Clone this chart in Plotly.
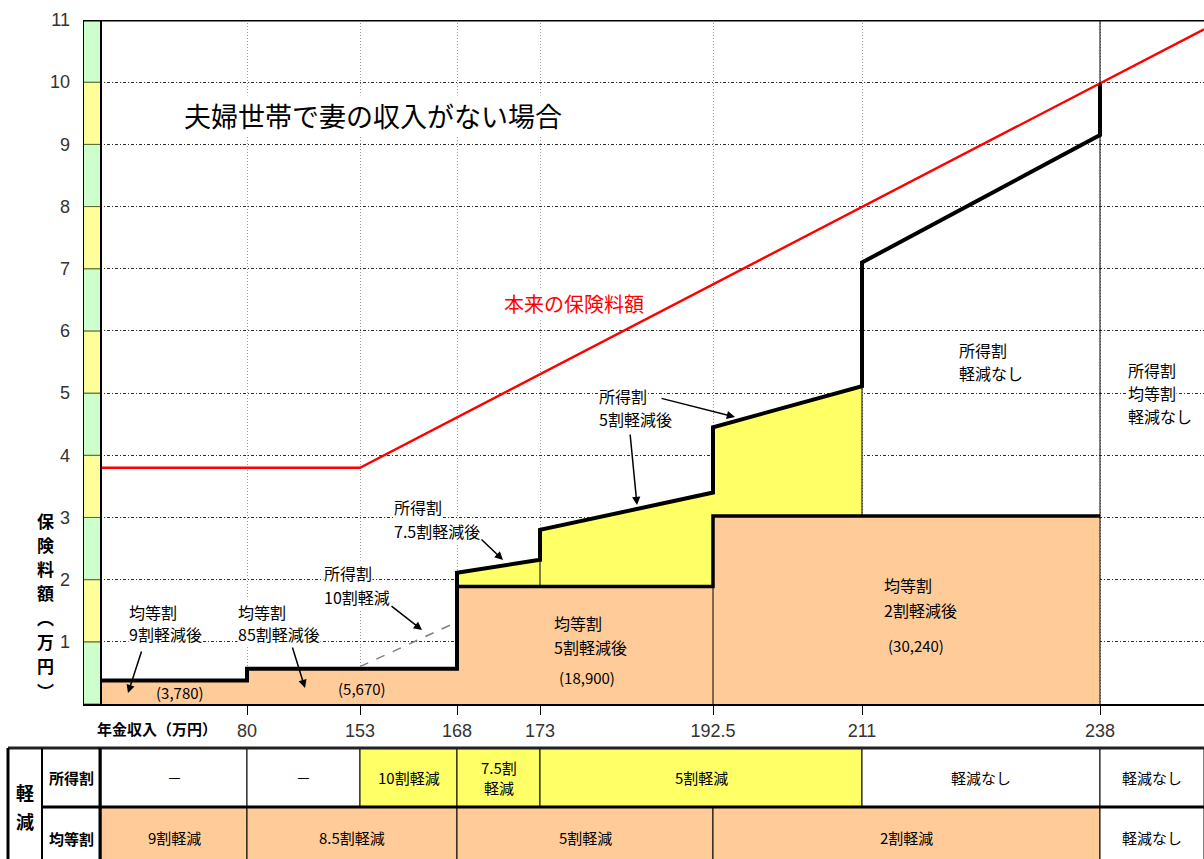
import numpy as np
import plotly.graph_objects as go

# ---------------- data ----------------
income_breaks = [0, 80, 153, 168, 173, 192.5, 211, 238, 250]
tick_income = [80, 153, 168, 173, 192.5, 211, 238]
tick_labels = ["80", "153", "168", "173", "192.5", "211", "238"]
y_ticks = [1, 2, 3, 4, 5, 6, 7, 8, 9, 10, 11]

# 軽減後の保険料額（万円）
total_x = [0, 80, 80, 168, 168, 173, 173, 192.5, 192.5, 211, 211, 238, 238]
total_y = [0.378, 0.378, 0.567, 0.567, 2.11, 2.32, 2.8, 3.4, 4.45, 5.11, 7.1, 9.15, 9.98]

# 均等割（軽減後）
kintou_edges = [0, 80, 168, 192.5, 238]
kintou_vals = [0.378, 0.567, 1.89, 3.024]
kintou_labels = ["(3,780)", "(5,670)", "(18,900)", "(30,240)"]

# 本来の保険料額
honrai_x = [0, 153, 250]
honrai_y = [3.8, 3.8, 10.85]

# 所得割10割軽減（点線）
zero_x = [153, 168]
zero_y = [0.6, 1.32]

# 下の表
shotoku_edges = [0, 80, 153, 168, 173, 211, 238, 250]
shotoku_text = ["－", "－", "10割軽減", "7.5割<br>軽減", "5割軽減", "軽減なし", "軽減なし"]
shotoku_reduced = [False, False, True, True, True, False, False]
kintou_tbl_edges = [0, 80, 168, 192.5, 238, 250]
kintou_tbl_text = ["9割軽減", "8.5割軽減", "5割軽減", "2割軽減", "軽減なし"]
kintou_reduced = [True, True, True, True, False]

# ---------------- styles / layout ----------------
W, H = 1204, 859
JP = "Noto Sans CJK JP"
NUM = "Liberation Sans"
ORANGE = "#FFCC99"
YELLOW = "#FFFF66"
GREEN = "#CCFFCC"
STRIP_Y = "#FFFF99"

disp_breaks = [0, 146, 259, 356, 439, 612, 761, 999, 1103]  # schematic x scale


def dx(v):
    return np.interp(v, income_breaks, disp_breaks)


def kintou_at(v):
    i = int(np.searchsorted(kintou_edges, v, side="right")) - 1
    i = max(0, min(i, len(kintou_vals) - 1))
    return kintou_vals[i]


fig = go.Figure()

# orange (均等割) area
ox, oy = [dx(0)], [0]
for a, b, v in zip(kintou_edges[:-1], kintou_edges[1:], kintou_vals):
    ox += [dx(a), dx(b)]
    oy += [v, v]
ox += [dx(kintou_edges[-1]), dx(0)]
oy += [0, 0]
fig.add_trace(go.Scatter(x=ox, y=oy, mode="lines", fill="toself", fillcolor=ORANGE,
                         line=dict(width=0), hoverinfo="skip", showlegend=False))

# yellow (所得割) area between 168 and 211
yx, yy = [], []
for i in range(len(total_x) - 1):
    a, b = total_x[i], total_x[i + 1]
    if a != b and a >= 168 and b <= 211:
        base = kintou_at((a + b) / 2)
        yx += [dx(a), dx(b), dx(b), dx(a), dx(a), None]
        yy += [total_y[i], total_y[i + 1], base, base, total_y[i], None]
fig.add_trace(go.Scatter(x=yx, y=yy, mode="lines", fill="toself", fillcolor=YELLOW,
                         line=dict(width=0), hoverinfo="skip", showlegend=False))

# black boundary on top of orange (168 - 238)
bx, by = [], []
for j in range(2, len(kintou_vals)):
    bx += [dx(kintou_edges[j]), dx(kintou_edges[j + 1])]
    by += [kintou_vals[j], kintou_vals[j]]
fig.add_trace(go.Scatter(x=bx, y=by, mode="lines", line=dict(color="black", width=3.5),
                         hoverinfo="skip", showlegend=False))

# total premium line
fig.add_trace(go.Scatter(x=dx(total_x), y=total_y, mode="lines",
                         line=dict(color="black", width=4), hoverinfo="skip", showlegend=False))

# dashed hypothetical line
fig.add_trace(go.Scatter(x=dx(zero_x), y=zero_y, mode="lines",
                         line=dict(color="#808080", width=1.5, dash="dash"),
                         hoverinfo="skip", showlegend=False))

# 本来の保険料額
fig.add_trace(go.Scatter(x=dx(honrai_x), y=honrai_y, mode="lines",
                         line=dict(color="#FF0000", width=2.4), hoverinfo="skip", showlegend=False))

# invisible trace to create the table subplot
fig.add_trace(go.Scatter(x=[0], y=[1], xaxis="x2", yaxis="y2", mode="markers",
                         marker=dict(opacity=0), hoverinfo="skip", showlegend=False))

shapes = []
# left colour strip
for k in range(11):
    shapes.append(dict(type="rect", xref="x", yref="y", x0=-18, x1=0, y0=k, y1=k + 1,
                       fillcolor=GREEN if k % 2 == 0 else STRIP_Y,
                       line=dict(color="#5a6a2a", width=1), layer="above"))
for xv in (-18, 0):
    shapes.append(dict(type="line", xref="x", yref="y", x0=xv, x1=xv, y0=0, y1=11,
                       line=dict(color="black", width=2), layer="above"))
shapes.append(dict(type="line", xref="x", yref="y", x0=-18, x1=1103, y0=11, y1=11,
                   line=dict(color="black", width=3), layer="above"))
# thin verticals
shapes.append(dict(type="line", xref="x", yref="y", x0=dx(238), x1=dx(238), y0=0, y1=11,
                   line=dict(color="black", width=1), layer="above"))
for xv, y0, y1 in [(173, 1.89, 2.8), (192.5, 0, 1.89), (211, 3.024, 5.11)]:
    shapes.append(dict(type="line", xref="x", yref="y", x0=dx(xv), x1=dx(xv), y0=y0, y1=y1,
                       line=dict(color="black", width=1), layer="above"))

# ---------------- table ----------------
annotations = []


def cell(x0, x1, y0, y1, fill):
    shapes.append(dict(type="rect", xref="x2", yref="y2", x0=x0, x1=x1, y0=y0, y1=y1,
                       fillcolor=fill, line=dict(color="black", width=1), layer="above"))


def tline(x0, x1, y0, y1, w, color="black"):
    shapes.append(dict(type="line", xref="x2", yref="y2", x0=x0, x1=x1, y0=y0, y1=y1,
                       line=dict(color=color, width=w), layer="above"))


def ttext(t, x, y, size=16, bold=False):
    annotations.append(dict(text=("<b>%s</b>" % t) if bold else t, x=x, y=y, xref="x2", yref="y2",
                            showarrow=False, font=dict(family=JP, size=size, color="black"),
                            xanchor="center", yanchor="middle", align="center"))


cell(-93, -59, 0, 2, "white")
cell(-59, -1, 1, 2, "white")
cell(-59, -1, 0, 1, "white")
for a, b, t, r in zip(shotoku_edges[:-1], shotoku_edges[1:], shotoku_text, shotoku_reduced):
    cell(dx(a), dx(b), 1, 2, YELLOW if r else "white")
    ttext(t, (dx(a) + dx(b)) / 2, 1.5, size=15)
for a, b, t, r in zip(kintou_tbl_edges[:-1], kintou_tbl_edges[1:], kintou_tbl_text, kintou_reduced):
    cell(dx(a), dx(b), 0, 1, ORANGE if r else "white")
    ttext(t, (dx(a) + dx(b)) / 2, 0.48, size=15)
tline(-93, 1103, 2, 2, 3, "#222222")
tline(-93, -93, 0, 2, 3)
tline(-59, -59, 0, 2, 2)
tline(-1, -1, 0, 2, 3)
tline(-59, 1103, 1, 1, 3)
ttext("軽", -76, 1.26, size=18, bold=True)
ttext("減", -76, 0.76, size=18, bold=True)
ttext("所得割", -30, 1.5, size=15, bold=True)
ttext("均等割", -30, 0.47, size=15, bold=True)


# ---------------- labels in chart ----------------
def P(xp, yp):
    return xp / W, 1 - yp / H


def label(lines, xp, yp0, dy=23, size=16, color="black", bg="white", xanchor="left", bold=False):
    for i, t in enumerate(lines):
        x, y = P(xp, yp0 + i * dy)
        annotations.append(dict(text=("<b>%s</b>" % t) if bold else t, x=x, y=y,
                                xref="paper", yref="paper", showarrow=False,
                                font=dict(family=JP, size=size, color=color),
                                xanchor=xanchor, yanchor="middle", bgcolor=bg, borderpad=0))


def arrow(tip, tail):
    x, y = P(*tip)
    annotations.append(dict(text="", x=x, y=y, xref="paper", yref="paper", showarrow=True,
                            ax=tail[0] - tip[0], ay=tail[1] - tip[1], axref="pixel", ayref="pixel",
                            arrowhead=2, arrowsize=1.1, arrowwidth=1.5, arrowcolor="black"))


label(["夫婦世帯で妻の収入がない場合"], 183, 115, size=27)
label(["本来の保険料額"], 503, 303, size=20, color="#FF0000")
label(["所得割", "軽減なし"], 958, 350)
label(["所得割", "均等割", "軽減なし"], 1127, 370)
label(["所得割", "5割軽減後"], 598, 396)
label(["所得割", "7.5割軽減後"], 393, 507, dy=24)
label(["所得割", "10割軽減"], 323, 573, dy=24)
label(["均等割", "9割軽減後"], 128, 612, dy=22)
label(["均等割", "85割軽減後"], 237, 612, dy=22)
label(["均等割", "5割軽減後"], 553, 623, dy=24, bg=None)
label(["均等割", "2割軽減後"], 883, 585, dy=25, bg=None)
label([kintou_labels[0]], 180, 692, size=15, bg=None, xanchor="center")
label([kintou_labels[1]], 362, 688, size=15, bg=None, xanchor="center")
label([kintou_labels[2]], 587, 677, size=15, bg=None, xanchor="center")
label([kintou_labels[3]], 916, 645, size=15, bg=None, xanchor="center")

arrow((735, 417), (660, 398))
arrow((637, 505), (630, 433))
arrow((503, 560), (480, 538))
arrow((422, 630), (390, 605))
arrow((128, 693), (142, 650))
arrow((305, 688), (292, 646))

# axis titles
for i, ch in enumerate(["保", "険", "料", "額", "︵", "万", "円", "︶"]):
    label([ch], 45, 520 + i * 24.3, size=17, bg=None, xanchor="center", bold=True)
label(["年金収入（万円）"], 157, 728, size=15, bg=None, xanchor="center", bold=True)

fig.update_layout(
    width=W, height=H,
    margin=dict(l=0, r=0, t=0, b=0, pad=0, autoexpand=False),
    paper_bgcolor="white", plot_bgcolor="white",
    showlegend=False,
    shapes=shapes, annotations=annotations,
    xaxis=dict(domain=[83 / W, 1], range=[-18, 1103], tickvals=dx(tick_income), ticktext=tick_labels,
               showgrid=True, gridcolor="#999999", griddash="1px,2px", gridwidth=1,
               ticks="outside", ticklen=9, tickcolor="black", tickwidth=1,
               showline=True, linecolor="black", linewidth=2, zeroline=False, automargin=False,
               tickfont=dict(family=NUM, size=18, color="#333333"), fixedrange=True),
    yaxis=dict(domain=[1 - 704 / H, 1 - 20 / H], range=[0, 11], tickvals=y_ticks,
               showgrid=True, gridcolor="#333333", griddash="3px,2px,1px,2px", gridwidth=1,
               zeroline=False, showline=False, ticks="", ticklabelstandoff=12, automargin=False,
               tickfont=dict(family=NUM, size=18, color="#333333"), fixedrange=True),
    xaxis2=dict(domain=[0, 1], range=[-101, 1103], anchor="y2", visible=False, fixedrange=True,
                automargin=False),
    yaxis2=dict(domain=[0, 1 - 745 / H], range=[0.119, 2.05], anchor="x2", visible=False,
                fixedrange=True, automargin=False),
)

fig.write_html("out.html", config={"displayModeBar": False},
               post_script="document.body.style.margin='0';document.body.style.overflow='hidden';")
